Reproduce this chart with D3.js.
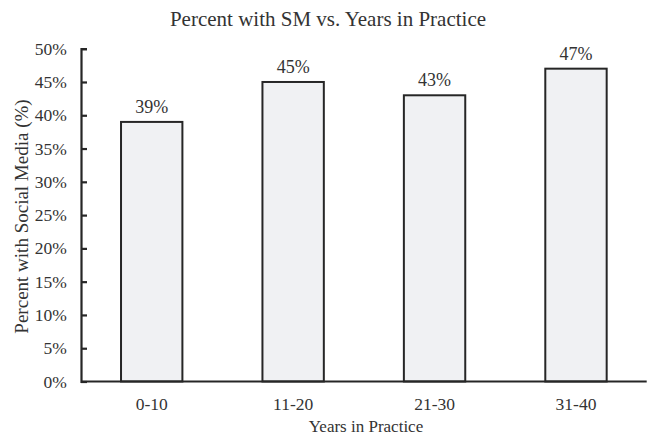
<!DOCTYPE html>
<html>
<head>
<meta charset="utf-8">
<script src="https://cdn.jsdelivr.net/npm/d3@7"></script>
<style>
  html, body { margin: 0; padding: 0; background: #fff; }
  svg { display: block; }
  text { font-family: "Times New Roman", "Liberation Serif", Tinos, "DejaVu Serif", serif; fill: #333; }
</style>
</head>
<body>
<svg id="chart" width="651" height="434"></svg>
<script>
// Share of respondents with social media, by years in practice
const categories = ["0-10", "11-20", "21-30", "31-40"];
const percentValues = [39, 45, 43, 47];
const yTickValues = [0, 5, 10, 15, 20, 25, 30, 35, 40, 45, 50];

const serif = '"Times New Roman", "Liberation Serif", Tinos, "DejaVu Serif", serif';
const svg = d3.select("#chart");
const plot = { left: 81, right: 646.7, top: 48.7, bottom: 381.5 };

const x = d3.scaleBand()
  .domain(categories)
  .range([plot.left, plot.right])
  .paddingInner(0.566)
  .paddingOuter(0.283);

const y = d3.scaleLinear()
  .domain([0, 50])
  .range([plot.bottom, plot.top]);

const ink = "#262626";

// bars
svg.append("g")
  .selectAll("rect")
  .data(percentValues)
  .join("rect")
  .attr("x", (d, i) => x(categories[i]))
  .attr("y", d => y(d))
  .attr("width", x.bandwidth())
  .attr("height", d => y(0) - y(d))
  .attr("fill", "#f0f1f3")
  .attr("stroke", ink)
  .attr("stroke-width", 2);

// value labels
svg.append("g")
  .selectAll("text")
  .data(percentValues)
  .join("text")
  .attr("x", (d, i) => x(categories[i]) + x.bandwidth() / 2)
  .attr("y", d => y(d) - 9)
  .attr("text-anchor", "middle")
  .attr("font-size", 18)
  .style("font-family", serif)
  .text(d => d + "%");

// y axis, ticks pointing into the plot
const yAxis = d3.axisRight(y)
  .tickValues(yTickValues)
  .tickSize(6)
  .tickFormat(d => d + "%");
const gy = svg.append("g")
  .attr("transform", `translate(${plot.left},0)`)
  .call(yAxis)
  .attr("font-family", serif);
gy.select(".domain").attr("stroke", ink).attr("stroke-width", 2.2);
gy.selectAll(".tick line").attr("stroke", ink).attr("stroke-width", 2.2);
gy.selectAll(".tick text")
  .attr("x", -14.3)
  .attr("text-anchor", "end")
  .attr("font-size", 17.5)
  .attr("fill", "#333")
  .style("font-family", serif);

// x axis baseline and category labels
const xAxis = d3.axisBottom(x).tickSize(0);
const gx = svg.append("g")
  .attr("transform", `translate(0,${y(0)})`)
  .call(xAxis)
  .attr("font-family", serif);
gx.select(".domain")
  .attr("d", `M${plot.left},0H${plot.right}`)
  .attr("stroke", ink)
  .attr("stroke-width", 2.2);
gx.selectAll(".tick text")
  .attr("y", 28.5)
  .attr("dy", 0)
  .attr("font-size", 17.5)
  .attr("fill", "#333")
  .style("font-family", serif);

// titles
svg.append("text")
  .attr("x", 328)
  .attr("y", 26)
  .attr("text-anchor", "middle")
  .attr("font-size", 21)
  .style("font-family", serif)
  .text("Percent with SM vs. Years in Practice");

svg.append("text")
  .attr("x", 366)
  .attr("y", 431.5)
  .attr("text-anchor", "middle")
  .attr("font-size", 17)
  .style("font-family", serif)
  .text("Years in Practice");

svg.append("text")
  .attr("transform", `translate(27.5,216.5) rotate(-90)`)
  .attr("text-anchor", "middle")
  .attr("font-size", 19)
  .style("font-family", serif)
  .text("Percent with Social Media (%)");
</script>
</body>
</html>
